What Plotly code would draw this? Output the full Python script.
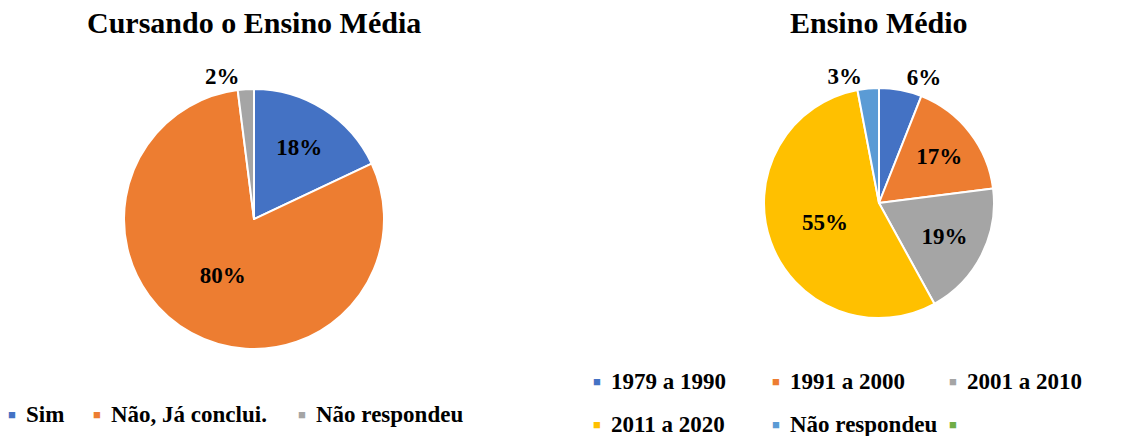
import plotly.graph_objects as go

# Left chart data
left_title = "Cursando o Ensino Média"
left_labels = ["Sim", "Não, Já conclui.", "Não respondeu"]
left_values = [18, 80, 2]
left_colors = ["#4472C4", "#ED7D31", "#A5A5A5"]

# Right chart data
right_title = "Ensino Médio"
right_labels = ["1979 a 1990", "1991 a 2000", "2001 a 2010", "2011 a 2020", "Não respondeu", ""]
right_values = [6, 17, 19, 55, 3, 0]
right_colors = ["#4472C4", "#ED7D31", "#A5A5A5", "#FFC000", "#5B9BD5", "#70AD47"]

W, H = 1138, 436
SERIF = "Liberation Serif, Times New Roman, serif"

# legend layout (pixel positions of the marker centres of each entry)
left_legend_x = [12, 97, 302]
left_legend_y = [414]
right_legend_x = [597, 776, 953]
right_legend_y = [381, 424]


def textpos(values):
    return ["outside" if v <= 6 else "inside" for v in values]


def texts(values):
    return [f"{v}%" if v > 0 else "" for v in values]


fig = go.Figure()

fig.add_trace(go.Pie(
    labels=left_labels, values=left_values, sort=False, direction="clockwise",
    rotation=0,
    marker=dict(colors=left_colors, line=dict(color="white", width=2)),
    text=texts(left_values), textinfo="text", textposition=textpos(left_values),
    insidetextorientation="horizontal",
    textfont=dict(family=SERIF, size=23, color="black", weight="bold"),
    domain=dict(x=[124 / W, 384 / W], y=[1 - 349 / H, 1 - 89 / H]),
    showlegend=False,
))

fig.add_trace(go.Pie(
    labels=[lab if lab else " " for lab in right_labels], values=right_values,
    sort=False, direction="clockwise", rotation=0,
    marker=dict(colors=right_colors, line=dict(color="white", width=2)),
    text=texts(right_values), textinfo="text", textposition=textpos(right_values),
    insidetextorientation="horizontal",
    textfont=dict(family=SERIF, size=23, color="black", weight="bold"),
    domain=dict(x=[764 / W, 994 / W], y=[1 - 318 / H, 1 - 88 / H]),
    showlegend=False,
))

annotations = [
    dict(text=f"<b>{left_title}</b>", x=254 / W, y=1 - 22 / H),
    dict(text=f"<b>{right_title}</b>", x=879 / W, y=1 - 22 / H),
]
for a in annotations:
    a.update(xref="paper", yref="paper", showarrow=False, xanchor="center",
             yanchor="middle", font=dict(family=SERIF, size=30, color="black"))


def legend_entries(labels, colors, xs, ys):
    out = []
    n = len(xs)
    for i, (lab, col) in enumerate(zip(labels, colors)):
        px = xs[i % n]
        py = ys[i // n]
        out.append(dict(text="■", x=px / W, y=1 - py / H, xref="paper", yref="paper",
                        showarrow=False, xanchor="center", yanchor="middle",
                        font=dict(family=SERIF, size=13, color=col)))
        if lab:
            out.append(dict(text=f"<b>{lab}</b>", x=(px + 12) / W, y=1 - py / H,
                            xref="paper", yref="paper", showarrow=False,
                            xanchor="left", yanchor="middle",
                            font=dict(family=SERIF, size=23, color="black")))
    return out


annotations += legend_entries(left_labels, left_colors, left_legend_x, left_legend_y)
annotations += legend_entries(right_labels, right_colors, right_legend_x, right_legend_y)

fig.update_layout(
    width=W, height=H,
    margin=dict(l=0, r=0, t=0, b=0),
    paper_bgcolor="white", plot_bgcolor="white",
    font=dict(family=SERIF, size=20, color="black"),
    showlegend=False,
    annotations=annotations,
)

fig.write_html("out.html", config={"displayModeBar": False},
               post_script="document.body.style.margin='0';")
